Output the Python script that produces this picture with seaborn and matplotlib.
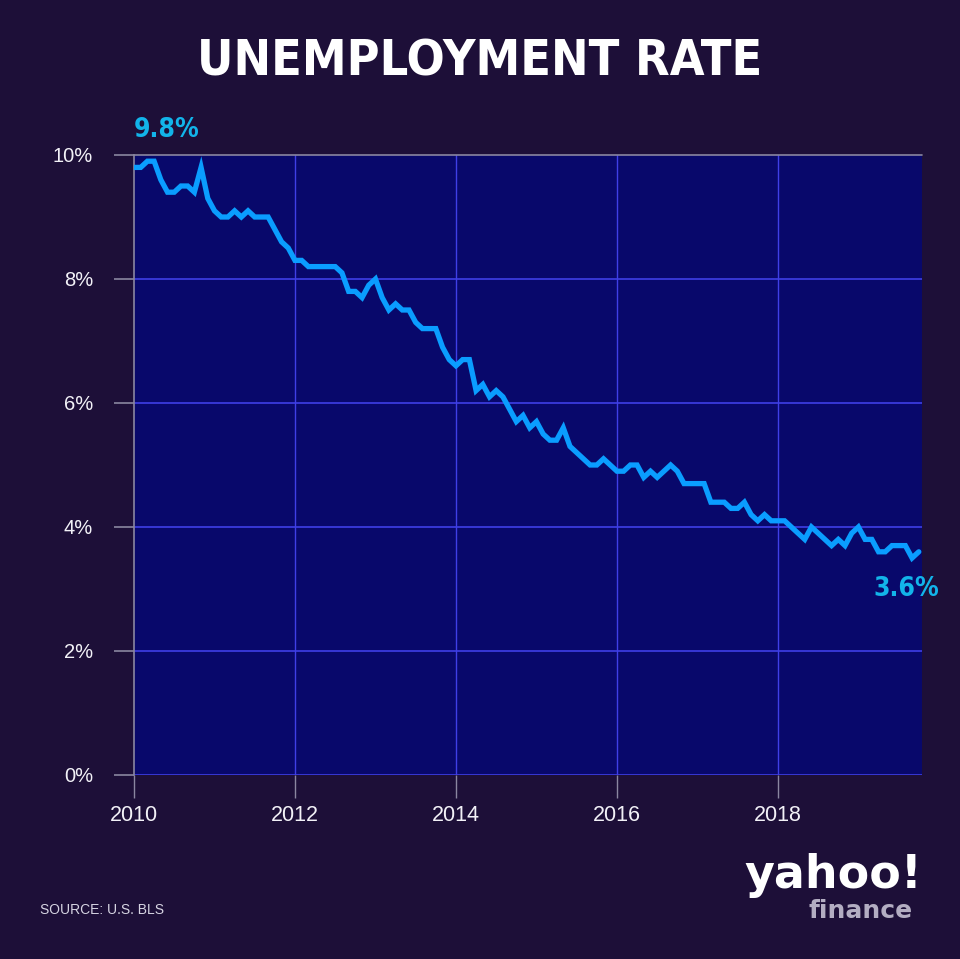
import numpy as np
import pandas as pd
import matplotlib
matplotlib.use("Agg")
import matplotlib.pyplot as plt
import seaborn as sns

# ---- data (monthly, Jan 2010 - Oct 2019) ----
rate_2010 = [9.8, 9.8, 9.9, 9.9, 9.6, 9.4, 9.4, 9.5, 9.5, 9.4, 9.8, 9.3]
rate_2011 = [9.1, 9.0, 9.0, 9.1, 9.0, 9.1, 9.0, 9.0, 9.0, 8.8, 8.6, 8.5]
rate_2012 = [8.3, 8.3, 8.2, 8.2, 8.2, 8.2, 8.2, 8.1, 7.8, 7.8, 7.7, 7.9]
rate_2013 = [8.0, 7.7, 7.5, 7.6, 7.5, 7.5, 7.3, 7.2, 7.2, 7.2, 6.9, 6.7]
rate_2014 = [6.6, 6.7, 6.7, 6.2, 6.3, 6.1, 6.2, 6.1, 5.9, 5.7, 5.8, 5.6]
rate_2015 = [5.7, 5.5, 5.4, 5.4, 5.6, 5.3, 5.2, 5.1, 5.0, 5.0, 5.1, 5.0]
rate_2016 = [4.9, 4.9, 5.0, 5.0, 4.8, 4.9, 4.8, 4.9, 5.0, 4.9, 4.7, 4.7]
rate_2017 = [4.7, 4.7, 4.4, 4.4, 4.4, 4.3, 4.3, 4.4, 4.2, 4.1, 4.2, 4.1]
rate_2018 = [4.1, 4.1, 4.0, 3.9, 3.8, 4.0, 3.9, 3.8, 3.7, 3.8, 3.7, 3.9]
rate_2019 = [4.0, 3.8, 3.8, 3.6, 3.6, 3.7, 3.7, 3.7, 3.5, 3.6]
start_year = 2010
x_ticks = [2010, 2012, 2014, 2016, 2018]
y_ticks = [0, 2, 4, 6, 8, 10]
y_tick_labels = ["0%", "2%", "4%", "6%", "8%", "10%"]
first_label = "9.8%"
last_label = "3.6%"

rates = (rate_2010 + rate_2011 + rate_2012 + rate_2013 + rate_2014 +
         rate_2015 + rate_2016 + rate_2017 + rate_2018 + rate_2019)
df = pd.DataFrame({"year": [start_year + i / 12 for i in range(len(rates))],
                   "rate": rates})

BG = "#1d0f38"
PLOT_BG = "#08086b"
GRID = "#3f3fe6"
TICK = "#8a86a0"
LINE = "#0a9dff"
ACCENT = "#12b4ea"
LABEL = "#f2f1f7"

sns.set_theme(style="white")
plt.rcParams["font.family"] = ["Liberation Sans", "DejaVu Sans"]

fig = plt.figure(figsize=(9.6, 9.59), dpi=100, facecolor=BG)
ax = fig.add_axes([134 / 960, 1 - 775 / 959, 788 / 960, 620 / 959])
ax.set_facecolor(PLOT_BG)

ax.set_xlim(2010, 2019.79)
ax.set_ylim(0, 10)

# grid lines
for yv in y_ticks[:-1]:
    ax.axhline(yv, color=GRID, lw=1.2, zorder=1)
for xv in x_ticks[1:]:
    ax.axvline(xv, color=GRID, lw=1.0, zorder=1)
ax.axhline(10, color=TICK, lw=1.2, zorder=1, clip_on=False)

sns.lineplot(data=df, x="year", y="rate", ax=ax, color=LINE, lw=3.8,
             zorder=3, solid_joinstyle="miter")

for s in ["top", "right", "bottom"]:
    ax.spines[s].set_visible(False)
ax.spines["left"].set_color(TICK)
ax.spines["left"].set_linewidth(1.2)

ax.set_xticks(x_ticks)
ax.set_xticklabels([str(v) for v in x_ticks])
ax.set_yticks(y_ticks)
ax.set_yticklabels(y_tick_labels)
ax.tick_params(axis="x", bottom=True, length=16.6, width=1.0, color=TICK,
               labelcolor=LABEL, labelsize=15.5, pad=5, direction="out")
ax.tick_params(axis="y", left=True, length=14.4, width=1.2, color=TICK,
               labelcolor=LABEL, labelsize=14.5, pad=15, direction="out")
ax.set_xlabel("")
ax.set_ylabel("")

# annotations
ax.text(df["year"].iloc[0], 10.2, first_label, color=ACCENT, fontsize=19,
        fontweight="bold", fontstretch="condensed", family=["DejaVu Sans"],
        ha="left", va="bottom", clip_on=False)
ax.text(df["year"].iloc[-1] + 0.25, 3.0, last_label, color=ACCENT, fontsize=19,
        fontweight="bold", fontstretch="condensed", family=["DejaVu Sans"],
        ha="right", va="center", clip_on=False)

# title
fig.text(0.5, 1 - 61 / 959, "UNEMPLOYMENT RATE", color="white", fontsize=36,
         fontweight="heavy", fontstretch="condensed", family=["DejaVu Sans"],
         ha="center", va="center")

# source
fig.text(40 / 960, 1 - 910 / 959, "SOURCE: U.S. BLS", color="#d6d4e2",
         fontsize=10, ha="left", va="center")

# logo
fig.text(922 / 960, 1 - 876 / 959, "yahoo!", color="white", fontsize=33,
         fontweight="heavy", family=["DejaVu Sans"], ha="right", va="center")
fig.text(913 / 960, 1 - 911 / 959, "finance", color="#b3adc2", fontsize=18,
         fontweight="heavy", family=["DejaVu Sans"], ha="right", va="center")

fig.savefig("out.png", dpi=100, facecolor=BG)
